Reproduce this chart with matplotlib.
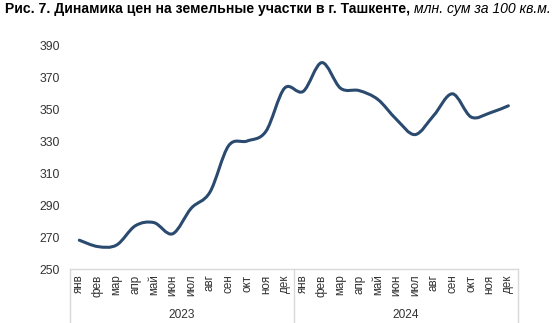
import matplotlib
matplotlib.use('Agg')
import matplotlib.pyplot as plt
from matplotlib.path import Path
from matplotlib.patches import PathPatch
import numpy as np

plt.rcParams['font.family'] = ['Liberation Sans', 'DejaVu Sans']

months = ['янв', 'фев', 'мар', 'апр', 'май', 'июн', 'июл', 'авг', 'сен', 'окт', 'ноя', 'дек']
years = ['2023', '2024']
prices_2023 = [268, 264, 265, 277, 279, 272, 288, 298, 327, 330, 336, 363]
prices_2024 = [361, 379, 363, 361.5, 356, 343.5, 334, 346, 359.5, 345, 347.5, 352]
y_ticks = [250, 270, 290, 310, 330, 350, 370, 390]

line_color = '#2B4A6F'
frame_color = '#D9D9D9'
text_color = '#333333'


def smooth_path(xs, ys):
    # bezier segments like a "smoothed line" in office charts
    pts = np.column_stack([xs, ys]).astype(float)
    n = len(pts)
    verts = [pts[0]]
    codes = [Path.MOVETO]
    for i in range(n - 1):
        p0 = pts[max(i - 1, 0)]
        p1 = pts[i]
        p2 = pts[i + 1]
        p3 = pts[min(i + 2, n - 1)]
        c1 = p1 + (p2 - p0) / 6.0
        c2 = p2 - (p3 - p1) / 6.0
        verts += [c1, c2, p2]
        codes += [Path.CURVE4] * 3
    return Path(verts, codes)


values = prices_2023 + prices_2024
x = np.arange(len(values))

fig = plt.figure(figsize=(5.6, 3.23), dpi=100)
ax = fig.add_axes([70 / 560, 54 / 323, 447.7 / 560, 224 / 323])

patch = PathPatch(smooth_path(x, values), facecolor='none', edgecolor=line_color,
                  lw=2.2, capstyle='round', joinstyle='round')
ax.add_patch(patch)

ax.set_xlim(-0.5, len(values) - 0.5)
ax.set_ylim(250, 390)
ax.set_yticks(y_ticks)
ax.set_yticklabels([str(v) for v in y_ticks], fontsize=8.8, color=text_color)

ax.set_xticks(x)
ax.set_xticklabels(months * len(years), rotation=90, fontsize=8.4, color=text_color,
                   va='top')
ax.tick_params(axis='both', length=0)
ax.tick_params(axis='y', pad=7)
ax.tick_params(axis='x', pad=4)

for s in ['top', 'right', 'left']:
    ax.spines[s].set_visible(False)
ax.spines['bottom'].set_color(frame_color)
ax.spines['bottom'].set_linewidth(1.0)

# year groups under the month labels
trans = ax.get_xaxis_transform()
for k in range(len(years) + 1):
    xb = k * 12 - 0.5
    ax.plot([xb, xb], [0, -0.235], transform=trans, color=frame_color, lw=1.0,
            clip_on=False)
for k, yr in enumerate(years):
    ax.text(k * 12 + 5.5, -0.205, yr, transform=trans, ha='center', va='center',
            fontsize=8.6, color=text_color)

# title: bold part followed by italic units
t1 = fig.text(5 / 560, 1 - 13 / 323, 'Рис. 7. Динамика цен на земельные участки в г. Ташкенте,',
              fontsize=10.1, fontweight='bold', ha='left', va='baseline')
fig.canvas.draw()
bb = t1.get_window_extent()
fig.text((bb.x1 + 4) / (fig.dpi * 5.6), 1 - 13 / 323, 'млн. сум за 100 кв.м.',
         fontsize=10.1, style='italic', ha='left', va='baseline')

fig.savefig('out.png', dpi=100)
